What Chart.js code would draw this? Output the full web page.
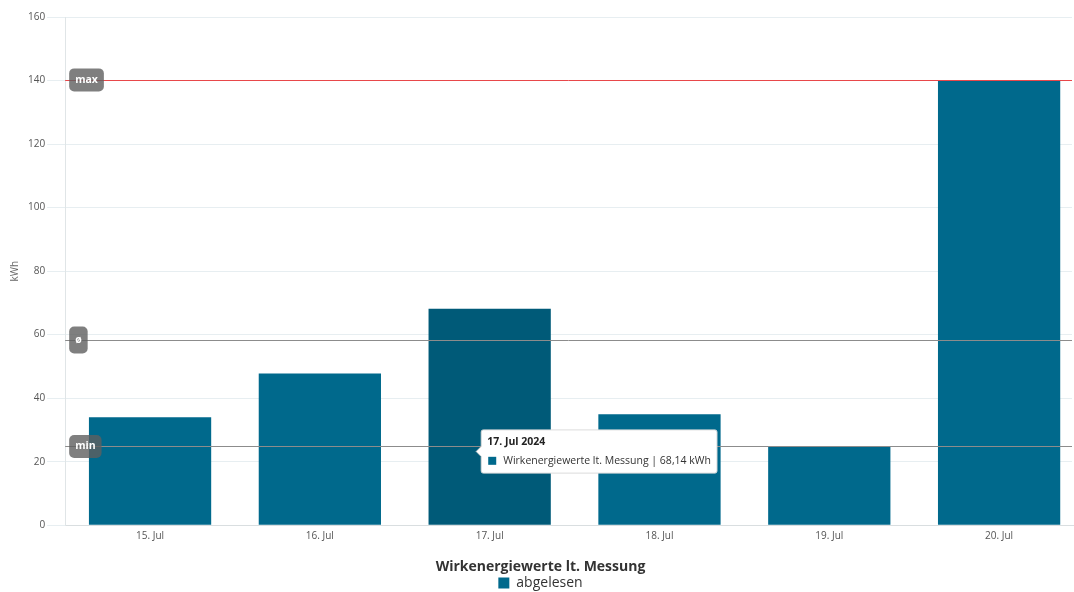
<!DOCTYPE html>
<html>
<head>
<meta charset="utf-8">
<script src="https://cdn.jsdelivr.net/npm/chart.js@4"></script>
<style>
html,body{margin:0;padding:0;background:#fff;}
#wrap{width:1074px;height:592px;position:relative;}
</style>
</head>
<body>
<div id="wrap"><canvas id="c"></canvas></div>
<script>
const categories = ['15. Jul','16. Jul','17. Jul','18. Jul','19. Jul','20. Jul'];
const fullDates = ['15. Jul 2024','16. Jul 2024','17. Jul 2024','18. Jul 2024','19. Jul 2024','20. Jul 2024'];
const values = [34.0, 47.8, 68.14, 34.9, 24.8, 140.2];
const seriesName = 'abgelesen';
const chartTitle = 'Wirkenergiewerte lt. Messung';
const unit = 'kWh';
const yTicks = [0,20,40,60,80,100,120,140,160];

const FONT = "'Open Sans', 'Noto Sans', sans-serif";
const barColor = '#00698c';
const barHover = '#005a78';
const xScaleOverhang = 12; // category band continues past the visible plot edge, as in the reference

const overhangPlugin = {
  id: 'overhang',
  afterLayout(chart) {
    const xs = chart.scales.x;
    xs.right += xScaleOverhang;
    xs.width += xScaleOverhang;
    xs.configure();
  }
};

const refLinesPlugin = {
  id: 'refLines',
  afterDatasetsDraw(chart) {
    const ys = chart.scales.y;
    const area = chart.chartArea;
    const ctx = chart.ctx;
    const data = chart.data.datasets[0].data;
    const maxV = Math.max(...data);
    const minV = Math.min(...data);
    const avgV = data.reduce((a,b)=>a+b,0)/data.length;
    const lines = [
      {v: avgV, color: '#8c8c8c', label: 'ø', h: 27},
      {v: minV, color: '#8c8c8c', label: 'min', h: 23},
      {v: maxV, color: '#e8474a', label: 'max', h: 23}
    ];
    ctx.save();
    lines.forEach(l => {
      const y = Math.round(ys.getPixelForValue(l.v)) + 0.5;
      ctx.strokeStyle = l.color;
      ctx.lineWidth = 1;
      ctx.beginPath();
      ctx.moveTo(area.left, y);
      ctx.lineTo(area.right, y);
      ctx.stroke();
    });
    lines.forEach(l => {
      const y = ys.getPixelForValue(l.v);
      ctx.font = 'bold 10.5px ' + FONT;
      const w = ctx.measureText(l.label).width + 12;
      const x = area.left + 4;
      ctx.fillStyle = 'rgba(95,95,95,0.8)';
      ctx.beginPath();
      ctx.roundRect(x, y - l.h/2, w, l.h, 5);
      ctx.fill();
      ctx.fillStyle = '#ffffff';
      ctx.textAlign = 'center';
      ctx.textBaseline = 'middle';
      ctx.fillText(l.label, x + w/2, y);
    });
    ctx.restore();
  }
};

Chart.Tooltip.positioners.nearBar = function(elements) {
  if (!elements.length) return false;
  const el = elements[0].element;
  const area = this.chart.chartArea;
  return { x: el.x - el.width * 0.11, y: area.bottom - area.height * 0.145 };
};

const chart = new Chart(document.getElementById('c'), {
  type: 'bar',
  data: {
    labels: categories,
    datasets: [{
      label: seriesName,
      data: values,
      backgroundColor: barColor,
      hoverBackgroundColor: barHover,
      borderWidth: 0
    }]
  },
  plugins: [overhangPlugin, refLinesPlugin],
  options: {
    responsive: true,
    maintainAspectRatio: false,
    animation: false,
    events: [],
    layout: { padding: { left: 9, right: 2, top: 17, bottom: -8 } },
    scales: {
      x: {
        grid: { display: false, drawTicks: false },
        border: { display: true, color: '#d9dee0' },
        ticks: { color: '#555', font: { family: FONT, size: 10 }, padding: 5 }
      },
      y: {
        min: 0, max: 160,
        afterBuildTicks(scale) { scale.ticks = yTicks.map(v => ({ value: v })); },
        grid: { color: '#e7eef1', tickLength: 18, drawTicks: true },
        border: { display: true, color: '#e0e5e7' },
        ticks: { color: '#555', font: { family: FONT, size: 10 }, padding: 2 },
        title: { display: true, text: unit, color: '#666', font: { family: FONT, size: 10 }, padding: { top: 0, bottom: 5 } }
      }
    },
    plugins: {
      title: {
        display: true,
        text: chartTitle,
        position: 'bottom',
        weight: 500,
        color: '#333',
        font: { family: FONT, size: 14, weight: 'bold' },
        padding: { top: 11, bottom: 0 }
      },
      legend: {
        position: 'bottom',
        labels: {
          color: '#333',
          font: { family: FONT, size: 14 },
          boxWidth: 11, boxHeight: 11,
          padding: 1
        }
      },
      tooltip: {
        enabled: true,
        position: 'nearBar',
        xAlign: 'left',
        yAlign: 'center',
        backgroundColor: '#ffffff',
        borderColor: '#dcdcdc',
        borderWidth: 1,
        cornerRadius: 2,
        caretSize: 5,
        caretPadding: 0,
        padding: { left: 6, right: 6, top: 6, bottom: 6 },
        titleColor: '#222',
        bodyColor: '#333',
        titleFont: { family: FONT, size: 10.5, weight: 'bold' },
        bodyFont: { family: FONT, size: 10.5 },
        titleMarginBottom: 6,
        boxWidth: 10, boxHeight: 10,
        boxPadding: 4,
        usePointStyle: false,
        callbacks: {
          title: items => fullDates[items[0].dataIndex],
          label: item => chartTitle + ' | ' + item.parsed.y.toLocaleString('de-DE', {minimumFractionDigits: 2, maximumFractionDigits: 2}) + ' ' + unit,
          labelColor: () => ({ borderColor: '#ffffff', backgroundColor: barColor, borderWidth: 0 })
        }
      }
    }
  }
});

const active = [{ datasetIndex: 0, index: 2 }];
chart.setActiveElements(active);
chart.tooltip.setActiveElements(active, { x: 0, y: 0 });
chart.update('none');
</script>
</body>
</html>
